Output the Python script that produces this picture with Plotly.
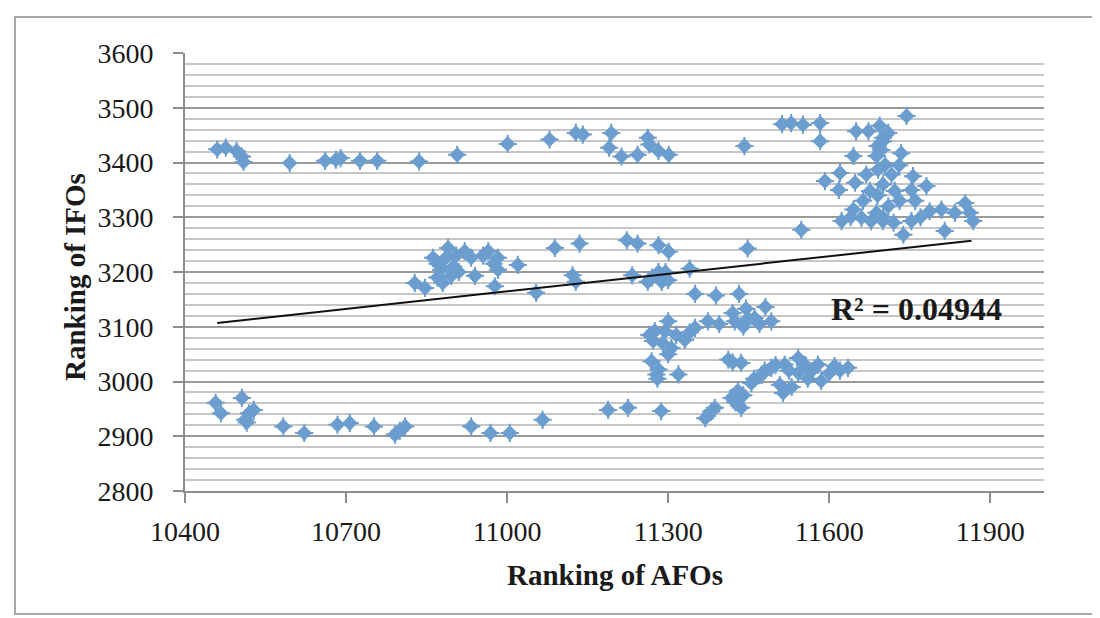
import plotly.graph_objects as go

# Ranking of AFOs (x) vs Ranking of IFOs (y)
afo = [
    # top-left row
    10460, 10476, 10496, 10506, 10509, 10595, 10661, 10681, 10690, 10726, 10758, 10836, 10907, 11001, 11079,
    # top-middle
    11128, 11141, 11194, 11190, 11213, 11243, 11262, 11265, 11282, 11301, 11442,
    # top-right cluster
    11529, 11551, 11583, 11583, 11744, 11650, 11673, 11694, 11710, 11700, 11697, 11645, 11688, 11734,
    11704, 11691, 11620, 11592, 11669, 11716, 11756, 11781, 11618, 11648, 11676, 11722, 11753, 11731,
    11663, 11645, 11688, 11660, 11623, 11678, 11700, 11753, 11787, 11809, 11834, 11853, 11862, 11868,
    11815, 11738, 11548, 11700, 11690, 11710, 11640, 11700, 11720, 11760, 11770, 11730, 11700, 11690, 11512,
    # middle-left cluster
    10828, 10847, 10862, 10890, 10877, 10896, 10921, 10933, 10940, 10965, 10983, 10983, 10977, 11020, 11054, 11089,
    10870, 10885, 10900, 10910, 10870, 10905, 10955, 10975, 10880,
    # middle-right
    11135, 11223, 11243, 11282, 11301, 11448, 11122, 11128, 11233, 11262, 11282, 11288, 11340, 11350, 11389,
    11432, 11445, 11481, 11270, 11300, 11295, 11420, 11449,
    # lower-middle cluster
    11188, 11225, 11287, 11369, 11387, 11418, 11430, 11436, 11455, 11474, 11492, 11508, 11514, 11517, 11542,
    11542, 11567, 11579, 11585, 11610, 11635, 11412, 11436, 11269, 11282, 11319, 11278, 11272, 11300, 11275,
    11306, 11331, 11350, 11374, 11424, 11461, 11492, 11294,
    11380, 11425, 11440, 11460, 11480, 11500, 11525, 11555, 11560, 11600, 11620, 11530, 11280, 11265, 11290,
    11315, 11340, 11395, 11440, 11470, 11420, 11300,
    # lower-left row
    10457, 10467, 10506, 10512, 10519, 10528, 10583, 10622, 10684, 10707, 10752, 10791, 10810, 10933, 10969,
    11005, 11066, 10515, 10800,
]
ifo = [
    3424, 3427, 3421, 3411, 3401, 3399, 3403, 3405, 3408, 3403, 3403, 3402, 3414, 3434, 3442,
    3454, 3451, 3454, 3427, 3411, 3414, 3445, 3433, 3421, 3414, 3430,
    3472, 3469, 3472, 3439, 3485, 3457, 3457, 3467, 3454, 3439, 3423, 3412, 3412, 3417,
    3396, 3387, 3381, 3366, 3378, 3378, 3375, 3357, 3350, 3363, 3348, 3348, 3350, 3330,
    3330, 3314, 3308, 3299, 3293, 3293, 3293, 3293, 3311, 3314, 3308, 3326, 3308, 3293,
    3275, 3268, 3277, 3360, 3340, 3320, 3300, 3300, 3290, 3330, 3300, 3395, 3445, 3430, 3470,
    3180, 3171, 3226, 3244, 3204, 3193, 3238, 3226, 3193, 3238, 3226, 3204, 3174, 3213, 3162, 3244,
    3215, 3225, 3210, 3200, 3190, 3230, 3230, 3215, 3180,
    3252, 3258, 3252, 3249, 3237, 3243, 3194, 3182, 3194, 3182, 3200, 3182, 3206, 3160, 3157,
    3160, 3133, 3136, 3190, 3185, 3200, 3125, 3115,
    2948, 2952, 2946, 2933, 2952, 2970, 2983, 2952, 2997, 3012, 3025, 2994, 2979, 3031, 3043,
    3016, 3019, 3031, 3001, 3028, 3025, 3040, 3034, 3037, 3022, 3013, 3013, 3074, 3110, 3092,
    3061, 3076, 3098, 3110, 3110, 3116, 3110, 3092,
    2945, 2962, 2975, 3005, 3020, 3030, 3020, 3030, 3005, 3015, 3020, 2990, 3005, 3085, 3070,
    3085, 3090, 3105, 3100, 3105, 3035, 3050,
    2961, 2942, 2970, 2930, 2942, 2948, 2918, 2906, 2921, 2924, 2918, 2903, 2918, 2918, 2906,
    2906, 2930, 2925, 2910,
]

# linear trend line end points
trend_x = [10460, 11865]
trend_y = [3107, 3257]
r2_label = "R² = 0.04944"

x_ticks = [10400, 10700, 11000, 11300, 11600, 11900]
y_ticks = [2800, 2900, 3000, 3100, 3200, 3300, 3400, 3500, 3600]

marker_color = "#6c9dcf"

fig = go.Figure()
fig.add_trace(go.Scatter(
    x=afo, y=ifo, mode="markers",
    marker=dict(symbol="cross-thin", size=13, line=dict(color=marker_color, width=2)),
    hoverinfo="skip", showlegend=False,
))
fig.add_trace(go.Scatter(
    x=afo, y=ifo, mode="markers",
    marker=dict(symbol="diamond", size=12, color=marker_color, line=dict(width=0)),
    showlegend=False,
))
fig.add_trace(go.Scatter(
    x=trend_x, y=trend_y, mode="lines",
    line=dict(color="#111111", width=2), showlegend=False,
))

tick_font = dict(family="Liberation Serif", size=28, color="#1a1a1a")
title_font = dict(family="Liberation Serif", size=29, color="#1a1a1a")
r2_font = dict(family="Liberation Serif", size=32, color="#1a1a1a")

L, R, T, B = 177, 64, 45, 135
W, H = 1100, 618
pw, ph = W - L - R, H - T - B

fig.update_layout(
    width=W, height=H,
    margin=dict(l=L, r=R, t=T, b=B),
    paper_bgcolor="white", plot_bgcolor="white",
    xaxis=dict(
        range=[10400, 12000], tickvals=x_ticks, ticktext=[str(v) for v in x_ticks],
        showgrid=False, zeroline=False, showline=True, linecolor="#8c8c8c", linewidth=2,
        ticks="outside", ticklen=10, tickwidth=1.5, tickcolor="#8c8c8c",
        tickfont=tick_font, ticklabelstandoff=4,
    ),
    yaxis=dict(
        range=[2800, 3600], tickvals=y_ticks, ticktext=[str(v) for v in y_ticks],
        showgrid=True, gridcolor="#9a9a9a", gridwidth=2,
        minor=dict(dtick=20, showgrid=True, gridcolor="#c6c6c6", gridwidth=1.5),
        zeroline=False, showline=True, linecolor="#8c8c8c", linewidth=2,
        ticks="outside", ticklen=10, tickwidth=1.5, tickcolor="#8c8c8c",
        tickfont=tick_font, ticklabelstandoff=14,
    ),
    annotations=[
        dict(text="<b>Ranking of AFOs</b>", x=(607 - L) / pw, y=(H - B - 567) / ph,
             xref="paper", yref="paper", showarrow=False, font=title_font,
             xanchor="center", yanchor="middle"),
        dict(text="<b>Ranking of IFOs</b>", x=(67 - L) / pw, y=(H - B - 269) / ph,
             xref="paper", yref="paper", showarrow=False, font=title_font, textangle=-90,
             xanchor="center", yanchor="middle"),
        dict(text="<b>" + r2_label + "</b>", x=(908 - L) / pw, y=(H - B - 301) / ph,
             xref="paper", yref="paper", showarrow=False, font=r2_font,
             xanchor="center", yanchor="middle"),
    ],
    shapes=[
        dict(type="rect", xref="paper", yref="paper",
             x0=(7 - L) / pw, x1=(1097 - L) / pw,
             y0=(H - B - 606) / ph, y1=(H - B - 9) / ph,
             line=dict(color="#a8a8a8", width=2), fillcolor="rgba(0,0,0,0)", layer="below"),
    ],
)

fig.write_html("out.html")
